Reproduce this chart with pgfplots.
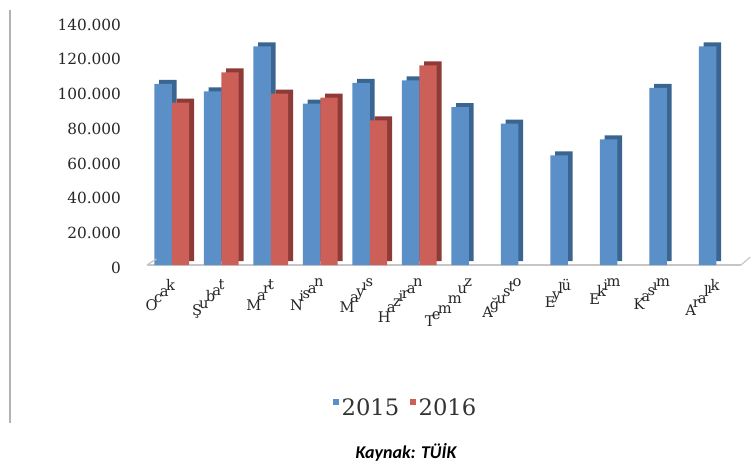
\documentclass[border=0pt]{standalone}
\usepackage{fontspec}
\setmainfont{DejaVu Serif}
\newfontfamily\kfont{Carlito}
\usepackage{pgfplots}
\pgfplotsset{compat=1.18}
\definecolor{bfront}{HTML}{5B8FC8}
\definecolor{bside}{HTML}{3A6591}
\definecolor{rfront}{HTML}{CD5F59}
\definecolor{rside}{HTML}{8E3B37}
\newdimen\rly
\newdimen\rlw
\protected\def\rlab#1{\hbox{\rly=0pt\rlw=0pt\rlabloop#1\relax\kern0.414\rlw}}
\def\rlabloop#1{\ifx\relax#1\else\setbox0=\hbox{#1}\rlw=0.7071\wd0 \raise\rly\hbox to\rlw{\box0\hss}\advance\rly by\rlw\expandafter\rlabloop\fi}
\pgfplotsset{sq legend/.style={legend image code/.code={\fill[##1] (0pt,2.5pt) rectangle (4.5pt,7pt);}}}
\begin{document}
\begin{tikzpicture}
\path[use as bounding box] (0pt,0pt) rectangle (564pt,-350.25pt);
\draw[gray!60, line width=0.8pt] (7.5pt,-7.5pt) -- (7.5pt,-317.25pt);
\begin{axis}[
  at={(110.25pt,-198.75pt)}, anchor=south west,
  width=445.5pt, height=182.25pt, scale only axis,
  xmin=-0.5, xmax=11.5, ymin=0, ymax=140000,
  ybar, bar width=13.1pt,
  axis x line=bottom, axis y line=left,
  y axis line style={draw=none},
  x axis line style={gray!45, line width=0.9pt, -},
  major tick length=0pt,
  scaled y ticks=false,
  xtick={0,1,2,3,4,5,6,7,8,9,10,11},
  xticklabels={\rlab{Ocak},\rlab{Şubat},\rlab{Mart},\rlab{Nisan},\rlab{Mayıs},\rlab{Haziran},\rlab{Temmuz},\rlab{Ağusto},\rlab{Eylü},\rlab{Ekim},\rlab{Kasım},\rlab{Aralık}},
  xticklabel style={anchor=north east, font=\fontsize{11}{13}\selectfont, text=black!85, xshift=6pt, yshift=-7pt},
  ytick={0,20000,40000,60000,80000,100000,120000,140000},
  yticklabels={0,20.000,40.000,60.000,80.000,100.000,120.000,140.000},
  yticklabel style={font=\fontsize{11.5}{13}\selectfont, text=black!85, xshift=-16pt, yshift=-2pt},
  legend style={at={(0.436,-0.588)}, anchor=center, draw=none, fill=none,
    legend columns=2, font=\fontsize{17}{19}\selectfont, text=black!80,
    /tikz/every even column/.append style={column sep=6pt}},
  clip=false,
]
\addplot[forget plot, fill=bside, draw=none, bar shift=-6.55pt, xshift=3.6pt, yshift=3pt] coordinates {
 (0,104400) (1,100000) (2,126000) (3,93000) (4,105000) (5,106400)
 (6,91000) (7,81400) (8,63200) (9,72400) (10,102000) (11,126000)};
\addplot[fill=bfront, draw=none, bar shift=-6.55pt, sq legend] coordinates {
 (0,104400) (1,100000) (2,126000) (3,93000) (4,105000) (5,106400)
 (6,91000) (7,81400) (8,63200) (9,72400) (10,102000) (11,126000)};
\addlegendentry{2015}
\addplot[forget plot, fill=rside, draw=none, bar shift=6.55pt, xshift=3.6pt, yshift=3pt] coordinates {
 (0,93500) (1,111000) (2,98700) (3,96400) (4,83300) (5,115000)};
\addplot[fill=rfront, draw=none, bar shift=6.55pt, sq legend] coordinates {
 (0,93500) (1,111000) (2,98700) (3,96400) (4,83300) (5,115000)};
\addlegendentry{2016}
\draw[gray!45, line width=0.9pt] (rel axis cs:0,0) -- ++(7pt,4.5pt);
\draw[gray!45, line width=0.9pt] (rel axis cs:1,0) -- ++(7pt,6pt);
\node[font=\kfont\bfseries\itshape\fontsize{13.5}{15}\selectfont] at (rel axis cs:0.436,-0.77) {Kaynak: TÜİK};
\end{axis}
\end{tikzpicture}
\end{document}
